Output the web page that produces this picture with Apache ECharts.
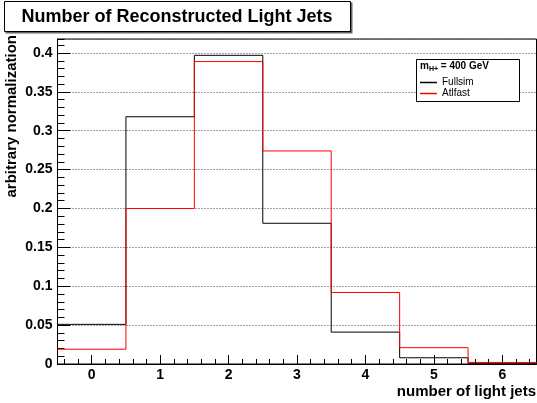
<!DOCTYPE html>
<html>
<head>
<meta charset="utf-8">
<script src="https://cdn.jsdelivr.net/npm/echarts@6/dist/echarts.min.js"></script>
<style>
html,body{margin:0;padding:0;background:#fff;}
#chart{width:537px;height:403px;}
</style>
</head>
<body>
<div id="chart"></div>
<script>
// ---- data ----
var binCenters = [0, 1, 2, 3, 4, 5, 6];
var fullsim = [0.051, 0.318, 0.397, 0.181, 0.041, 0.008, 0.001];
var atlfast = [0.019, 0.200, 0.389, 0.274, 0.092, 0.021, 0.002];
var xTickLabels = ['0', '1', '2', '3', '4', '5', '6'];
var seriesNames = ['Fullsim', 'Atlfast'];
var titleText = 'Number of Reconstructed Light Jets';
var xTitle = 'number of light jets';
var yTitle = 'arbitrary normalization';

function stepPoints(centers, vals) {
  var pts = [];
  for (var i = 0; i < centers.length; i++) {
    pts.push([centers[i] - 0.5, vals[i]]);
    pts.push([centers[i] + 0.5, vals[i]]);
  }
  return pts;
}
var X_MIN = -0.5, X_MAX = 6.5, Y_MIN = 0, Y_MAX = 0.418;
var xMinor = [];
for (var k = -2; k <= 32; k++) { var v = +(k * 0.2).toFixed(2); if (v > X_MIN && v < X_MAX) xMinor.push(v); }

var FONT = '"Liberation Sans", Arial, sans-serif';
var chart = echarts.init(document.getElementById('chart'), null, {renderer: 'canvas'});

chart.setOption({
  animation: false,
  backgroundColor: '#fff',
  grid: {left: 57.5, right: 0.5, top: 39, bottom: 39, show: true, borderColor: '#000', borderWidth: 1},
  xAxis: [
    {type: 'value', min: X_MIN, max: X_MAX, position: 'bottom', show: false},
    {
      type: 'category', data: xTickLabels, boundaryGap: true, position: 'bottom',
      axisLine: {show: true, onZero: false, lineStyle: {color: '#000', width: 1}},
      axisTick: {show: true, inside: true, length: 9, alignWithLabel: true, interval: 0, lineStyle: {color: '#000', width: 1}},
      axisLabel: {show: true, interval: 0, color: '#000', fontFamily: FONT, fontWeight: 'bold', fontSize: 14, margin: 4},
      splitLine: {show: false}
    },
    {
      type: 'value', min: X_MIN, max: X_MAX, position: 'bottom',
      axisLine: {show: false, onZero: false},
      axisTick: {show: true, inside: true, length: 5, customValues: xMinor, lineStyle: {color: '#000', width: 1}},
      axisLabel: {show: false, customValues: xMinor},
      splitLine: {show: false}
    }
  ],
  yAxis: [
    {
      type: 'value', min: Y_MIN, max: Y_MAX, interval: 0.05, position: 'left',
      axisLine: {show: true, onZero: false, lineStyle: {color: '#000', width: 1}},
      axisTick: {show: true, inside: true, length: 13, lineStyle: {color: '#000', width: 1}},
      axisLabel: {show: true, showMaxLabel: false, color: '#000', fontFamily: FONT, fontWeight: 'bold', fontSize: 14, margin: 5,
        formatter: function (v) { return String(+v.toFixed(2)); }},
      splitLine: {show: true, lineStyle: {color: '#444', type: [1, 2], width: 1}}
    },
    {
      type: 'value', min: Y_MIN, max: Y_MAX, interval: 0.01, position: 'left',
      axisLine: {show: false, onZero: false},
      axisTick: {show: true, inside: true, length: 7, lineStyle: {color: '#000', width: 1}},
      axisLabel: {show: false},
      splitLine: {show: false}
    }
  ],
  legend: {
    show: true, orient: 'vertical', left: 420, top: 77, padding: 0, z: 20,
    itemWidth: 17, itemHeight: 1.5, itemGap: 0, icon: 'rect',
    textStyle: {fontFamily: FONT, fontSize: 10, lineHeight: 11, color: '#000'},
    data: seriesNames
  },
  series: [
    {name: seriesNames[0], type: 'line', xAxisIndex: 0, yAxisIndex: 0, data: stepPoints(binCenters, fullsim), showSymbol: false, symbol: 'none',
      lineStyle: {color: '#000', width: 1}, itemStyle: {color: '#000'}, z: 3},
    {name: seriesNames[1], type: 'line', xAxisIndex: 0, yAxisIndex: 0, data: stepPoints(binCenters, atlfast), showSymbol: false, symbol: 'none',
      lineStyle: {color: '#ff0000', width: 1}, itemStyle: {color: '#ff0000'}, z: 4}
  ],
  graphic: [
    {type: 'rect', shape: {x: 5.5, y: 2.5, width: 347, height: 31}, style: {fill: '#666', stroke: null}, z: 10},
    {type: 'rect', shape: {x: 4.5, y: 1.5, width: 346, height: 30}, style: {fill: '#fff', stroke: '#000', lineWidth: 1}, z: 11},
    {type: 'text', x: 177, y: 17, style: {text: titleText, fontFamily: FONT, fontWeight: 'bold', fontSize: 18, fill: '#000', align: 'center', verticalAlign: 'middle'}, z: 12},
    {type: 'rect', shape: {x: 416.5, y: 59.5, width: 103, height: 42}, style: {fill: '#fff', stroke: '#000', lineWidth: 1}, z: 5},
    {type: 'text', x: 420, y: 66, style: {
      text: '{m|m}{s|H+}{m| = 400 GeV}', verticalAlign: 'middle', align: 'left',
      rich: {
        m: {fontFamily: FONT, fontWeight: 'bold', fontSize: 10, fill: '#000'},
        s: {fontFamily: FONT, fontWeight: 'bold', fontSize: 7, fill: '#000', padding: [6, 0, 0, 0]}
      }}, z: 6},
    {type: 'text', x: 12, y: 35, rotation: Math.PI / 2, style: {text: yTitle, fontFamily: FONT, fontWeight: 'bold', fontSize: 15, fill: '#000', align: 'right', verticalAlign: 'middle'}},
    {type: 'text', x: 536, y: 392, style: {text: xTitle, fontFamily: FONT, fontWeight: 'bold', fontSize: 15, fill: '#000', align: 'right', verticalAlign: 'middle'}}
  ]
});
</script>
</body>
</html>
